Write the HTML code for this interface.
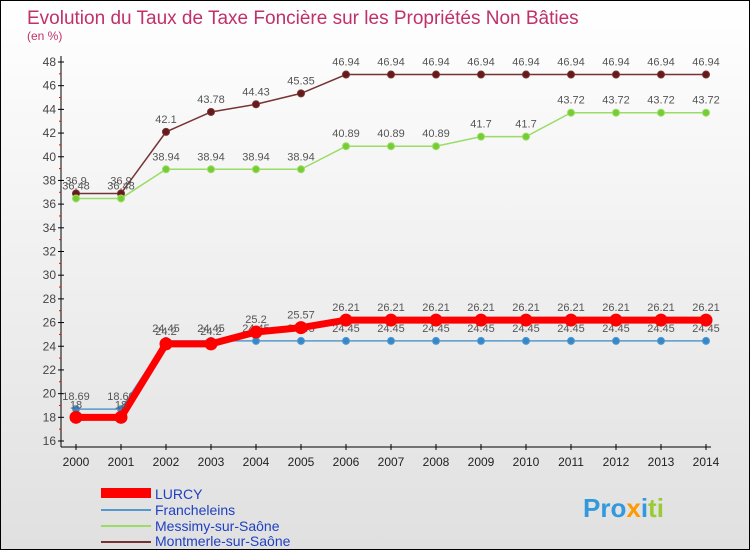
<!DOCTYPE html>
<html><head><meta charset="utf-8"><style>
body{margin:0;width:750px;height:550px;overflow:hidden;font-family:"Liberation Sans",sans-serif}
.wrap{position:relative;width:748px;height:548px;border:1px solid #000;background:linear-gradient(#fff 0%,#e0e0e0 100%)}
</style></head><body>
<div class="wrap">
<svg width="748" height="548" id="svg">
<text x="26" y="23" font-size="19" fill="#c0306a">Evolution du Taux de Taxe Foncière sur les Propriétés Non Bâties</text>
<text x="26" y="39" font-size="12" fill="#c0306a">(en %)</text>
<g id="g"></g>
<g>
<rect x="100" y="487" width="50" height="10" fill="#f00"/>
<text x="154" y="498" font-size="14" fill="#2040c0">LURCY</text>
<rect x="100" y="508" width="50" height="2" fill="#5599cc"/>
<text x="154" y="514" font-size="14" fill="#2040c0">Francheleins</text>
<rect x="100" y="524" width="50" height="2" fill="#99dd66"/>
<text x="154" y="530" font-size="14" fill="#2040c0">Messimy-sur-Saône</text>
<rect x="100" y="540" width="50" height="2" fill="#773333"/>
<text x="154" y="545" font-size="14" fill="#2040c0">Montmerle-sur-Saône</text>
</g>
<text x="582" y="516" font-size="26" font-weight="bold" fill="#3399dd">Pro<tspan fill="#ff9900">x</tspan>i<tspan fill="#99cc33">ti</tspan></text>
</svg>
</div>
<script>
const years=[2000,2001,2002,2003,2004,2005,2006,2007,2008,2009,2010,2011,2012,2013,2014];
const lurcy=[18,18,24.2,24.2,25.2,25.57,26.21,26.21,26.21,26.21,26.21,26.21,26.21,26.21,26.21];
const franch=[18.69,18.69,24.45,24.45,24.45,24.45,24.45,24.45,24.45,24.45,24.45,24.45,24.45,24.45,24.45];
const messimy=[36.48,36.48,38.94,38.94,38.94,38.94,40.89,40.89,40.89,41.7,41.7,43.72,43.72,43.72,43.72];
const montmerle=[36.9,36.9,42.1,43.78,44.43,45.35,46.94,46.94,46.94,46.94,46.94,46.94,46.94,46.94,46.94];
const yTicks=[16,18,20,22,24,26,28,30,32,34,36,38,40,42,44,46,48];
const NS='http://www.w3.org/2000/svg';
const g=document.getElementById('g');
const X=i=>75+i*45;
const Y=v=>440-(v-16)*379/32;
function el(t,a){const e=document.createElementNS(NS,t);for(const k in a)e.setAttribute(k,a[k]);g.appendChild(e);return e;}
let ax=el('line',{x1:60,y1:55,x2:60,y2:446,stroke:'#000'});


let bx=el('line',{x1:60,y1:446,x2:710,y2:446,stroke:'#000'});


yTicks.forEach(v=>{
 el('line',{x1:57,x2:63,y1:Y(v),y2:Y(v),stroke:'#000'});
 if(v<48)el('line',{x1:58,x2:60,y1:Y(v+1),y2:Y(v+1),stroke:'#f00'});
 const t=el('text',{x:55,y:Y(v)+4,'font-size':12,'text-anchor':'end',fill:'#444'});t.textContent=v;
 
 
});
years.forEach((y,i)=>{
 el('line',{x1:X(i),x2:X(i),y1:443,y2:449,stroke:'#000'});
 const t=el('text',{x:X(i),y:465,'font-size':12,'text-anchor':'middle',fill:'#222'});t.textContent=y;
 
 
});
function series(arr,col,w,r,name,dot){
 const p=el('polyline',{points:arr.map((v,i)=>X(i)+','+Y(v)).join(' '),fill:'none',stroke:col,'stroke-width':w});
 
 
 arr.forEach((v,i)=>{
  const c=el('circle',{cx:X(i),cy:Y(v),r:r,fill:dot,stroke:col});
  
  
  const t=el('text',{x:X(i),y:Y(v)-9,'font-size':11,'text-anchor':'middle',fill:'#555'});t.textContent=v;
  
  
 });
}
series(montmerle,'#773333',1.5,3.5,'montmerle','#661a1a');
series(messimy,'#99dd66',1.5,3.5,'messimy','#77cc33');
series(franch,'#5599cc',1.5,3.5,'francheleins','#3388cc');
series(lurcy,'#f00',7,6,'lurcy','#f00');
</script>
</body></html>
